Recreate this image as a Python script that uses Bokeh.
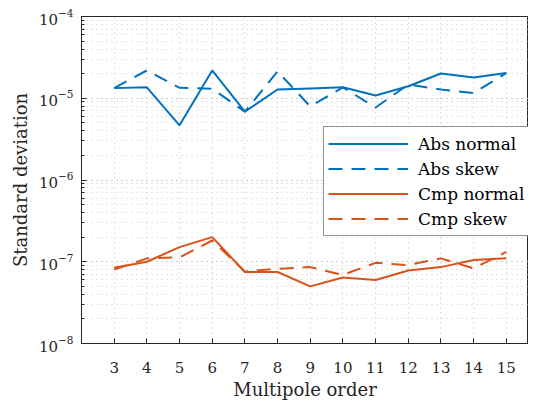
from bokeh.plotting import figure
from bokeh.models import FixedTicker, Legend, LegendItem
from bokeh.embed import file_html
from bokeh.resources import INLINE

orders = [3, 4, 5, 6, 7, 8, 9, 10, 11, 12, 13, 14, 15]
abs_normal = [1.33e-5, 1.36e-5, 4.66e-6, 2.19e-5, 6.85e-6, 1.28e-5, 1.32e-5, 1.36e-5, 1.08e-5, 1.40e-5, 2.01e-5, 1.79e-5, 2.03e-5]
abs_skew = [1.33e-5, 2.19e-5, 1.34e-5, 1.31e-5, 6.85e-6, 2.13e-5, 7.95e-6, 1.36e-5, 7.7e-6, 1.47e-5, 1.28e-5, 1.16e-5, 2.03e-5]
cmp_normal = [8.47e-8, 1.0e-7, 1.51e-7, 2.0e-7, 7.5e-8, 7.5e-8, 5.0e-8, 6.43e-8, 5.97e-8, 7.8e-8, 8.6e-8, 1.05e-7, 1.1e-7]
cmp_skew = [8.0e-8, 1.1e-7, 1.13e-7, 1.82e-7, 7.6e-8, 8.2e-8, 8.6e-8, 6.9e-8, 9.7e-8, 9.1e-8, 1.1e-7, 8.3e-8, 1.32e-7]
series_labels = ["Abs normal", "Abs skew", "Cmp normal", "Cmp skew"]

BLUE = "#0072BD"
ORANGE = "#D95319"
FONT = "DejaVu Serif"
TXT = "#262626"

p = figure(width=528, height=402, y_axis_type="log",
           x_range=(2, 15.68), y_range=(1e-8, 1e-4),
           output_backend="svg", toolbar_location=None,
           min_border_left=81, min_border_right=0, min_border_top=16, min_border_bottom=58)
p.outline_line_color = TXT
p.background_fill_color = "white"

r1 = p.line(orders, abs_normal, line_color=BLUE, line_width=2)
r2 = p.line(orders, abs_skew, line_color=BLUE, line_width=2, line_dash="14 9")
r3 = p.line(orders, cmp_normal, line_color=ORANGE, line_width=2)
r4 = p.line(orders, cmp_skew, line_color=ORANGE, line_width=2, line_dash="14 9")

p.xaxis.ticker = FixedTicker(ticks=orders)
p.xgrid.ticker = FixedTicker(ticks=orders)

for ax in (p.xaxis[0], p.yaxis[0]):
    ax.axis_line_color = TXT
    ax.major_tick_line_color = TXT
    ax.minor_tick_line_color = TXT
    ax.major_tick_in = 5
    ax.major_tick_out = 0
    ax.minor_tick_in = 3
    ax.minor_tick_out = 0
    ax.major_label_text_font = FONT
    ax.major_label_text_font_size = "15px"
    ax.major_label_text_color = TXT
    ax.axis_label_text_font = FONT
    ax.axis_label_text_font_size = "18px"
    ax.axis_label_text_font_style = "normal"
    ax.axis_label_text_color = TXT

p.xaxis.axis_label = "Multipole order"
p.yaxis.axis_label = "Standard deviation"
p.xaxis.major_label_standoff = 18
p.xaxis.axis_label_standoff = 3
p.yaxis.major_label_standoff = 8

for g in (p.xgrid[0], p.ygrid[0]):
    g.grid_line_color = "#c0c0c0"
    g.grid_line_dash = "1 4"
    g.grid_line_width = 1
p.ygrid.minor_grid_line_color = "#cccccc"
p.ygrid.minor_grid_line_dash = "1 4"

legend = Legend(items=[LegendItem(label=series_labels[0], renderers=[r1]),
                       LegendItem(label=series_labels[1], renderers=[r2]),
                       LegendItem(label=series_labels[2], renderers=[r3]),
                       LegendItem(label=series_labels[3], renderers=[r4])],
                location=(242, 107), glyph_width=80, glyph_height=25, label_height=25,
                spacing=0, padding=4, margin=0, label_standoff=10, label_width=140,
                label_text_font=FONT, label_text_font_size="17px", label_text_color="#000000",
                border_line_color="#262626", border_line_width=1,
                background_fill_color="white", background_fill_alpha=1)
p.add_layout(legend, "center")

open("out.html", "w").write(file_html(p, INLINE))
